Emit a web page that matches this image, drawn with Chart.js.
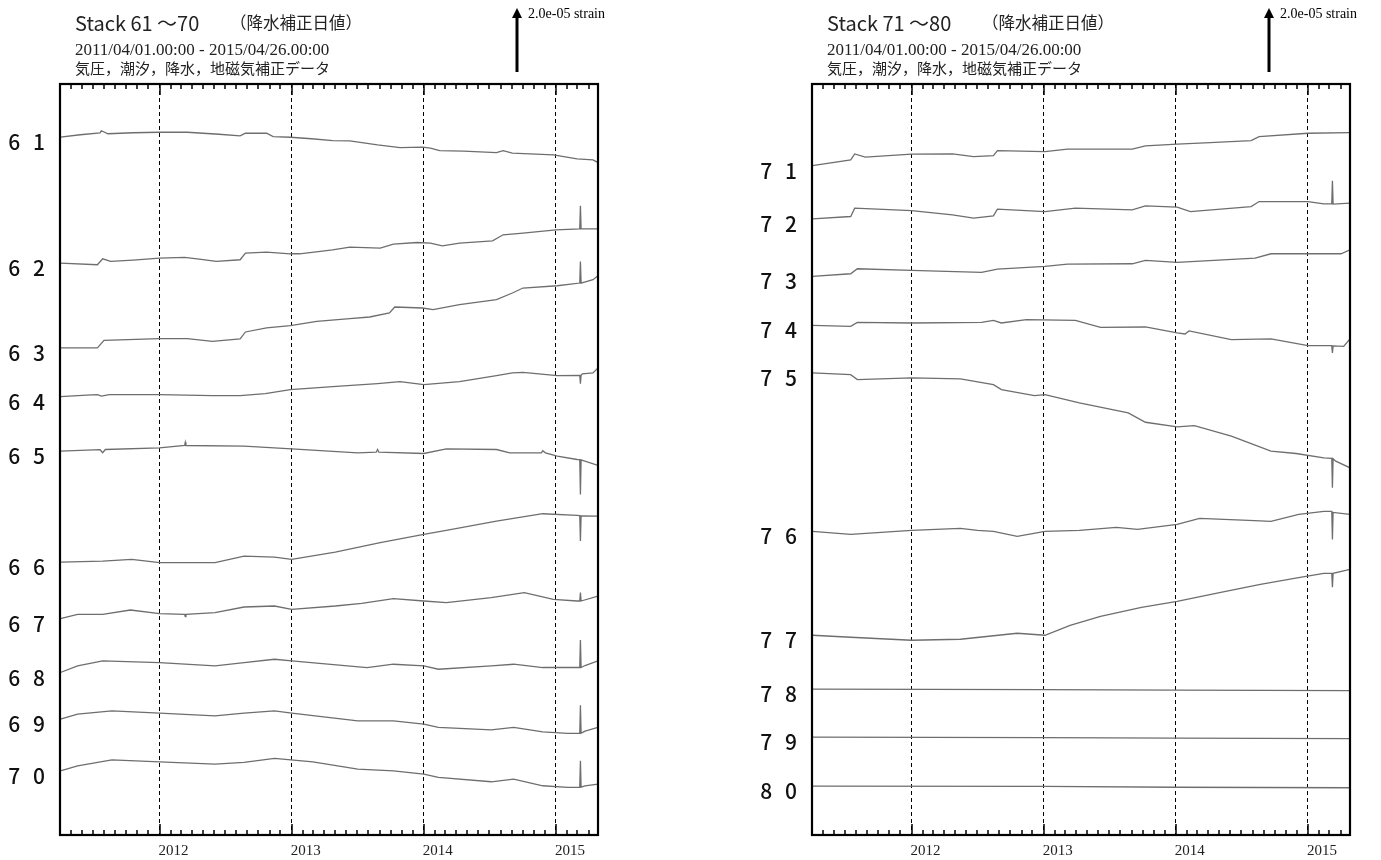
<!DOCTYPE html>
<html lang="ja">
<head>
<meta charset="UTF-8">
<title>Stack 61-80 降水補正日値</title>
<script src="https://cdn.jsdelivr.net/npm/chart.js"></script>
<style>
  body { margin: 0; background: #fff; }
  .panel { position: absolute; top: 0; height: 860px; }
</style>
</head>
<body>
<div class="panel" style="left:0;width:690px"><canvas id="left" width="690" height="860"></canvas></div>
<div class="panel" style="left:690px;width:691px"><canvas id="right" width="691" height="860"></canvas></div>

<script>
  // time axis in decimal years: 2011/04/01 .. 2015/04/26
  const START = 2011.247, END = 2015.318;
  const years = [2012, 2013, 2014, 2015];
  const monthStart = [0, 31, 59, 90, 120, 151, 181, 212, 243, 273, 304, 334];
  const SCALE_BAR = 64; // value units equal to 2.0e-05 strain
  const TRACE = '#6e6e6e';

  // trace names and base levels (value units, bottom of frame = 0)
  const namesLeft = ['6 1', '6 2', '6 3', '6 4', '6 5', '6 6', '6 7', '6 8', '6 9', '7 0'];
  const basesLeft = [698.7, 572.7, 487.7, 439, 384.3, 273.3, 216.7, 162.7, 116, 64.3];
  const namesRight = ['7 1', '7 2', '7 3', '7 4', '7 5', '7 6', '7 7', '7 8', '7 9', '8 0'];
  const basesRight = [670.3, 617, 559.3, 510.3, 462.7, 304, 200, 146, 98, 49];

  // [decimal year, change from start]
  const s61 = [[2011.25,0],[2011.40,2.5],[2011.55,4.3],[2011.56,6.5],[2011.61,3.5],[2011.8,4.5],[2012.0,5],[2012.21,5],[2012.45,3],[2012.61,1.3],[2012.65,4],[2012.81,4],[2012.86,0.6],[2012.99,0],[2013.15,-1.5],[2013.31,-3.4],[2013.44,-3.7],[2013.65,-7.7],[2013.82,-10.4],[2013.99,-10],[2014.05,-11],[2014.12,-13.4],[2014.3,-14],[2014.55,-15.4],[2014.60,-13.4],[2014.67,-16],[2014.98,-17.7],[2015.16,-21.7],[2015.28,-22.7],[2015.318,-25.4]];
  const s62 = [[2011.25,0],[2011.53,-1.7],[2011.57,4.3],[2011.63,1.6],[2011.8,3],[2012.0,5],[2012.19,5.6],[2012.30,4],[2012.43,1.6],[2012.61,3.3],[2012.65,10],[2012.81,11],[2012.99,9.3],[2013.06,9.3],[2013.31,13.3],[2013.44,16],[2013.67,15],[2013.77,19],[2013.95,20.6],[2014.05,20],[2014.14,17.3],[2014.27,20],[2014.52,22.3],[2014.60,28.3],[2014.75,30],[2015.0,33.3],[2015.18,34.3],[2015.185,57.3],[2015.19,34.3],[2015.318,34.3]];
  const s63 = [[2011.25,0],[2011.53,0],[2011.58,7.6],[2012.0,9.3],[2012.21,9.3],[2012.40,6.6],[2012.61,9],[2012.65,16],[2012.81,20],[2012.99,22.3],[2013.19,26.6],[2013.44,29.3],[2013.59,31],[2013.74,35],[2013.78,41],[2013.99,40],[2014.07,38.3],[2014.27,43.3],[2014.55,48.3],[2014.67,55],[2014.75,60],[2015.01,62.3],[2015.18,65],[2015.185,86.6],[2015.19,65],[2015.28,68.3],[2015.318,72.3]];
  const s64 = [[2011.25,0],[2011.45,1.5],[2011.53,2],[2011.56,0.5],[2011.62,2],[2012.0,2],[2012.40,1],[2012.61,1],[2012.8,3],[2012.99,7],[2013.31,10],[2013.65,13],[2013.82,15],[2014.0,12],[2014.27,15],[2014.55,21],[2014.67,23.7],[2014.75,24.3],[2015.01,21],[2015.18,21.3],[2015.185,13],[2015.19,21.3],[2015.20,22.7],[2015.28,23.7],[2015.318,28.7]];
  const s65 = [[2011.25,0],[2011.55,1.5],[2011.57,-1.5],[2011.59,1.7],[2012.0,3.4],[2012.19,5.7],[2012.195,9],[2012.2,5.7],[2012.64,5],[2013.0,2.4],[2013.50,-1.6],[2013.64,-1],[2013.65,1.7],[2013.66,-1],[2014.0,-2.3],[2014.17,2.4],[2014.55,1.7],[2014.65,-1.6],[2014.89,-1.6],[2014.90,0.5],[2014.92,-1.6],[2015.01,-5],[2015.16,-8.3],[2015.18,-8.5],[2015.185,-43.3],[2015.19,-8.7],[2015.318,-14.3]];
  const s66 = [[2011.25,0],[2011.57,1],[2011.79,2.7],[2012.0,-0.6],[2012.42,-0.6],[2012.64,6],[2012.87,5],[2013.0,2.7],[2013.33,10],[2013.67,19.4],[2014.0,27.7],[2014.17,31.7],[2014.55,41],[2014.90,48.4],[2015.16,46.7],[2015.18,46.5],[2015.185,21],[2015.19,46.3],[2015.318,46]];
  const s67 = [[2011.25,0],[2011.38,4.3],[2011.57,4.3],[2011.78,8.6],[2012.0,5],[2012.19,4.3],[2012.195,2],[2012.2,4.3],[2012.42,6],[2012.64,11.6],[2012.87,12.6],[2013.0,9.3],[2013.33,12.6],[2013.53,15.3],[2013.77,20],[2014.0,17.6],[2014.17,16],[2014.51,21],[2014.76,26],[2014.98,19.3],[2015.16,17.6],[2015.18,17.6],[2015.185,26],[2015.19,17.6],[2015.318,22.6]];
  const s68 = [[2011.25,0],[2011.38,6.6],[2011.57,11.6],[2012.0,10],[2012.42,6.6],[2012.64,10],[2012.87,13.3],[2013.0,11.6],[2013.57,5],[2013.77,8.3],[2014.0,6.6],[2014.11,3.3],[2014.51,6.6],[2014.68,8.3],[2014.90,5],[2015.16,5],[2015.18,5],[2015.185,32.6],[2015.19,5],[2015.22,7],[2015.318,11.6]];
  const s69 = [[2011.25,0],[2011.38,5],[2011.64,8.3],[2012.0,6],[2012.42,3.3],[2012.64,6],[2012.87,8.3],[2013.0,6],[2013.50,-1.7],[2013.77,-1.7],[2014.0,-5],[2014.11,-8.3],[2014.51,-10.7],[2014.68,-8.3],[2014.90,-12.7],[2015.09,-14.3],[2015.18,-14.3],[2015.185,14],[2015.19,-14],[2015.22,-12],[2015.318,-8.3]];
  const s70 = [[2011.25,0],[2011.38,5],[2011.64,11],[2012.0,9],[2012.42,6.7],[2012.64,8.4],[2012.87,12.4],[2013.16,9],[2013.50,1.7],[2013.77,0],[2014.0,-3.3],[2014.11,-6.6],[2014.51,-11],[2014.68,-8.3],[2014.90,-15],[2015.09,-16.6],[2015.18,-16.6],[2015.185,10],[2015.19,-16.4],[2015.22,-15],[2015.318,-13.3]];

  const s71 = [[2011.25,0],[2011.54,5.7],[2011.57,11.7],[2011.65,8.4],[2012.0,11.4],[2012.31,11.7],[2012.47,9],[2012.62,10],[2012.65,15],[2013.01,14],[2013.18,16.4],[2013.67,16.4],[2013.77,19.7],[2014.01,21.4],[2014.26,23],[2014.57,25],[2014.63,29],[2015.0,32.4],[2015.318,33]];
  const s72 = [[2011.25,0],[2011.54,2.3],[2011.57,10.7],[2012.0,8.3],[2012.31,4],[2012.47,0.7],[2012.62,3],[2012.65,9.7],[2013.01,7.3],[2013.24,10.7],[2013.67,9],[2013.77,13],[2014.01,11.7],[2014.11,7.3],[2014.57,12.3],[2014.63,17.3],[2015.0,17.3],[2015.12,15],[2015.18,15],[2015.185,38],[2015.19,14.7],[2015.318,15.7]];
  const s73 = [[2011.25,0],[2011.54,2.7],[2011.59,7.7],[2012.0,6],[2012.53,4],[2012.65,7.4],[2013.01,10],[2013.18,12.4],[2013.67,12.7],[2013.77,16],[2014.01,14],[2014.60,18.4],[2014.72,22.7],[2015.0,22.7],[2015.25,22.7],[2015.318,26.7]];
  const s74 = [[2011.25,0],[2011.54,-1],[2011.59,3],[2012.0,2.4],[2012.53,3],[2012.62,5],[2012.68,2.4],[2012.87,5.7],[2013.24,5],[2013.43,-2],[2013.77,-1.6],[2014.01,-7.6],[2014.07,-8.6],[2014.10,-5.6],[2014.42,-14.3],[2014.72,-13.6],[2015.0,-20.3],[2015.18,-20.3],[2015.185,-27.6],[2015.19,-20.5],[2015.27,-21],[2015.318,-13.6]];
  const s75 = [[2011.25,0],[2011.54,-1.7],[2011.59,-6.7],[2012.0,-5],[2012.37,-6],[2012.62,-11.7],[2012.68,-16.7],[2012.93,-22.7],[2013.01,-21.7],[2013.27,-30],[2013.64,-40],[2013.77,-49.4],[2014.01,-54],[2014.14,-52.7],[2014.42,-63.4],[2014.72,-78.4],[2014.91,-80.7],[2015.12,-85],[2015.18,-85.5],[2015.185,-115],[2015.19,-86],[2015.21,-88.4],[2015.318,-95]];
  const s76 = [[2011.25,0],[2011.54,-3],[2012.0,1],[2012.37,3],[2012.50,1],[2012.62,0],[2012.80,-5],[2013.01,0],[2013.27,1],[2013.55,4],[2013.71,2],[2014.01,7],[2014.18,13],[2014.55,11],[2014.72,10],[2014.93,17],[2015.12,20],[2015.18,20],[2015.185,-8],[2015.19,19],[2015.318,17]];
  const s77 = [[2011.25,0],[2011.54,-2],[2012.0,-5],[2012.37,-4],[2012.80,2],[2013.01,0],[2013.20,10],[2013.43,19],[2013.74,28],[2014.01,34],[2014.34,43],[2014.64,51],[2014.94,58],[2015.12,62],[2015.18,62],[2015.185,48],[2015.19,62],[2015.318,66]];
  const s78 = [[2011.25,0],[2013.0,-0.5],[2014.0,-1],[2015.318,-1.5]];
  const s79 = [[2011.25,0],[2013.0,-0.5],[2014.0,-1],[2015.318,-1.5]];
  const s80 = [[2011.25,0],[2013.0,-0.3],[2014.0,-1.2],[2015.318,-1.7]];

  // frame, monthly ticks, trace names, header and scale arrow
  const decor = {
    id: 'decor',
    afterDraw(chart, args, o) {
      const { ctx, chartArea: a, scales: { x, y } } = chart;
      ctx.save();
      ctx.strokeStyle = '#000';
      ctx.fillStyle = '#000';
      ctx.lineWidth = 1.5;
      ctx.beginPath();
      for (let yr = 2011; yr <= 2015; yr++) {
        monthStart.forEach((d, m) => {
          const t = yr + d / 365;
          if (t <= x.min + 0.01 || t >= x.max) return;
          const px = Math.round(x.getPixelForValue(t));
          const len = m === 0 ? 11 : 5;
          ctx.moveTo(px, a.top); ctx.lineTo(px, a.top + len);
          ctx.moveTo(px, a.bottom); ctx.lineTo(px, a.bottom - len);
        });
      }
      ctx.stroke();

      ctx.lineWidth = 2.2;
      ctx.strokeRect(a.left, a.top, a.right - a.left, a.bottom - a.top);

      // trace names
      ctx.fillStyle = '#111';
      ctx.font = '500 21px "Noto Sans CJK JP"';
      ctx.textAlign = 'right';
      ctx.textBaseline = 'middle';
      ctx.letterSpacing = '4px';
      o.names.forEach((n, i) => ctx.fillText(n, a.left - 11, y.getPixelForValue(o.bases[i]) + 5));
      ctx.letterSpacing = '0px';

      // header
      ctx.textAlign = 'left';
      ctx.fillStyle = '#222';
      ctx.font = '20px "Noto Sans CJK JP"';
      ctx.fillText(o.title, a.left + 15, 23);
      ctx.font = '16.5px "Noto Sans CJK JP"';
      ctx.fillText('（降水補正日値）', a.left + 170, 23);
      ctx.font = '17px "Liberation Serif"';
      ctx.fillText('2011/04/01.00:00 - 2015/04/26.00:00', a.left + 15, 51);
      ctx.font = '15px "Noto Sans CJK JP"';
      ctx.fillText('気圧，潮汐，降水，地磁気補正データ', a.left + 15, 68);

      // scale arrow = 2.0e-05 strain
      const ax = a.right - 81;
      const len = y.getPixelForValue(0) - y.getPixelForValue(SCALE_BAR);
      const yb = a.top - 12, yt = yb - len;
      ctx.fillStyle = '#000';
      ctx.lineWidth = 3;
      ctx.beginPath();
      ctx.moveTo(ax, yb); ctx.lineTo(ax, yt + 8);
      ctx.stroke();
      ctx.beginPath();
      ctx.moveTo(ax, yt); ctx.lineTo(ax - 5, yt + 10); ctx.lineTo(ax + 5, yt + 10);
      ctx.closePath(); ctx.fill();
      ctx.font = '14px "Liberation Serif"';
      ctx.fillText('2.0e-05 strain', ax + 11, 14);
      ctx.restore();
    }
  };

  function makePanel(id, names, bases, series, title, pad) {
    return new Chart(document.getElementById(id), {
      type: 'line',
      data: {
        datasets: series.map((s, i) => ({
          label: names[i],
          data: s.map(([t, v]) => ({ x: t, y: bases[i] + v })),
          borderColor: TRACE,
          borderWidth: 1.3,
          pointRadius: 0,
          tension: 0
        }))
      },
      options: {
        responsive: false,
        animation: false,
        layout: { padding: pad },
        plugins: {
          legend: { display: false },
          tooltip: { enabled: false },
          decor: { names, bases, title }
        },
        scales: {
          x: {
            type: 'linear', min: START, max: END,
            afterBuildTicks: s => { s.ticks = years.map(v => ({ value: v })); },
            ticks: {
              callback: v => String(v),
              labelOffset: 14,
              padding: 7,
              maxRotation: 0,
              autoSkip: false,
              color: '#222',
              font: { family: 'Liberation Serif', size: 15 }
            },
            grid: { color: '#000', lineWidth: 1, drawTicks: false },
            border: { display: false, dash: [4, 3] }
          },
          y: { min: 0, max: 752, display: false }
        }
      },
      plugins: [decor]
    });
  }

  makePanel('left', namesLeft, basesLeft,
    [s61, s62, s63, s64, s65, s66, s67, s68, s69, s70],
    'Stack 61 ～70', { left: 60, right: 92, top: 84, bottom: -7 });
  makePanel('right', namesRight, basesRight,
    [s71, s72, s73, s74, s75, s76, s77, s78, s79, s80],
    'Stack 71 ～80', { left: 122, right: 31, top: 84, bottom: -7 });
</script>
</body>
</html>
